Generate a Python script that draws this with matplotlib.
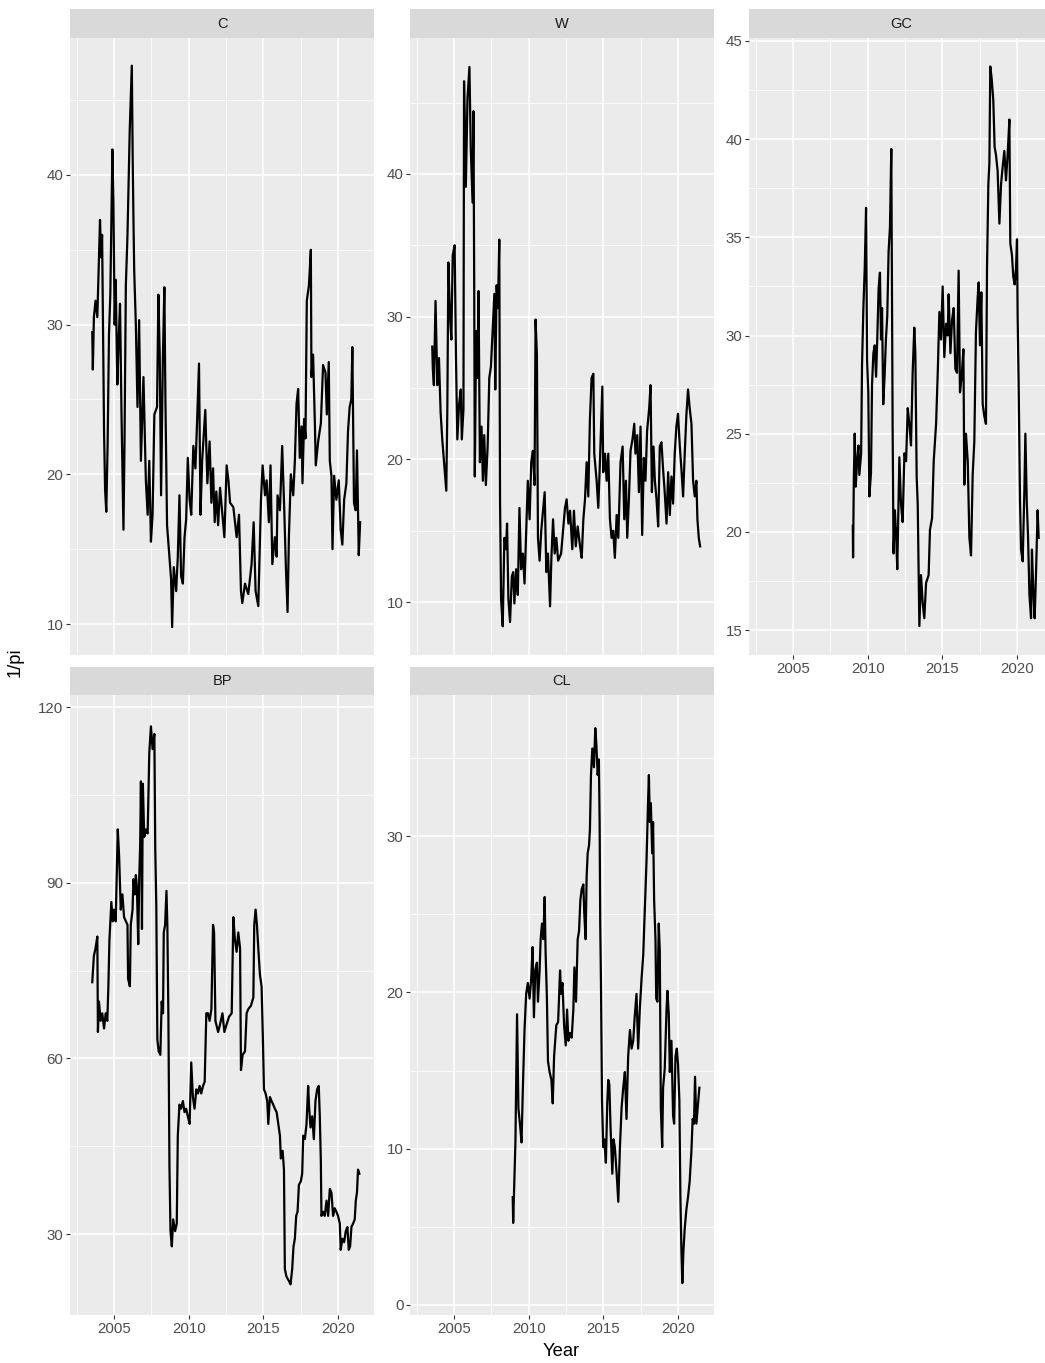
import matplotlib
matplotlib.use("Agg")
import matplotlib.pyplot as plt

plt.rcParams['font.family'] = ['Liberation Sans', 'DejaVu Sans']

# ---------------- data ----------------
c_year = [2003.54, 2003.58, 2003.65, 2003.76, 2003.88, 2004.06, 2004.13, 2004.20, 2004.33, 2004.40,
          2004.48, 2004.57, 2004.66, 2004.75, 2004.89, 2004.96, 2005.04, 2005.11, 2005.22, 2005.31,
          2005.40, 2005.50, 2005.63, 2005.70, 2005.79, 2005.90, 2006.05, 2006.19, 2006.25, 2006.30,
          2006.35, 2006.46, 2006.57, 2006.68, 2006.80, 2006.97, 2007.13, 2007.25, 2007.36, 2007.47,
          2007.58, 2007.70, 2007.88, 2007.97, 2008.06, 2008.15, 2008.27, 2008.37, 2008.44, 2008.55,
          2008.71, 2008.82, 2008.89, 2009.00, 2009.16, 2009.27, 2009.38, 2009.49, 2009.61, 2009.72,
          2009.83, 2009.94, 2010.06, 2010.17, 2010.31, 2010.45, 2010.56, 2010.69, 2010.79, 2010.90,
          2011.11, 2011.25, 2011.40, 2011.52, 2011.63, 2011.74, 2011.85, 2011.97,
          2012.10, 2012.39, 2012.54, 2012.66, 2012.77, 2012.99, 2013.21, 2013.37, 2013.50, 2013.59,
          2013.77, 2013.99, 2014.21, 2014.35, 2014.48, 2014.66, 2014.84, 2014.95, 2015.11, 2015.22,
          2015.37, 2015.48, 2015.60, 2015.77, 2015.89, 2015.95, 2016.11, 2016.26, 2016.40, 2016.51,
          2016.62, 2016.71, 2016.84, 2017.00, 2017.11, 2017.22, 2017.33, 2017.44, 2017.56, 2017.62,
          2017.73, 2017.82, 2017.91, 2018.05, 2018.18, 2018.22, 2018.33, 2018.45, 2018.51, 2018.67,
          2018.85, 2019.00, 2019.16, 2019.25, 2019.38, 2019.45, 2019.56, 2019.63, 2019.74, 2019.89,
          2020.05, 2020.18, 2020.29, 2020.41, 2020.56, 2020.67, 2020.78, 2020.89, 2020.96, 2021.07,
          2021.18, 2021.27, 2021.39, 2021.48]
c_val = [29.5, 27.0, 30.5, 31.6, 30.5, 37.0, 34.5, 36.0, 22.9, 19.0,
         17.5, 22.0, 29.3, 32.0, 41.7, 38.0, 30.0, 33.0, 26.0, 29.0,
         31.4, 24.0, 16.3, 22.0, 32.6, 36.0, 43.0, 47.3, 41.0, 37.0,
         33.6, 30.0, 24.5, 30.3, 20.9, 26.5, 19.6, 17.3, 20.9, 15.5,
         17.3, 24.0, 24.5, 32.0, 28.0, 18.6, 27.8, 32.5, 25.0, 16.6,
         14.5, 13.0, 9.8, 13.8, 12.2, 14.5, 18.6, 13.2, 12.7, 15.8,
         17.0, 21.1, 18.3, 17.3, 21.9, 20.4, 23.5, 27.4, 17.3, 20.9,
         24.3, 19.4, 22.2, 18.1, 20.4, 16.8, 18.85, 16.6,
         19.1, 15.8, 20.6, 19.6, 18.1, 17.8, 15.8, 17.3, 12.2, 11.4,
         12.7, 12.0, 14.0, 16.8, 12.2, 11.2, 18.3, 20.6, 18.6, 19.6,
         16.8, 20.6, 14.0, 15.8, 14.5, 18.6, 17.6, 21.9, 17.6, 13.75,
         10.8, 15.8, 20.0, 18.6, 20.9, 24.7, 25.7, 21.1, 23.2, 19.4,
         23.7, 22.4, 31.6, 32.6, 35.0, 26.5, 28.0, 23.4, 20.6, 22.2,
         23.4, 27.3, 26.8, 24.0, 27.5, 20.9, 19.9, 15.0, 19.9, 18.3,
         19.6, 16.3, 15.3, 18.3, 19.4, 22.9, 24.5, 25.0, 28.5, 18.1,
         17.6, 21.6, 14.6, 16.8]

w_year = [2003.54, 2003.58, 2003.65, 2003.76, 2003.88, 2003.99, 2004.10, 2004.21, 2004.33, 2004.48,
          2004.55, 2004.62, 2004.73, 2004.82, 2004.91, 2005.04, 2005.13, 2005.22, 2005.34, 2005.45,
          2005.52, 2005.63, 2005.67, 2005.79, 2005.90, 2006.03, 2006.12, 2006.24, 2006.30, 2006.35,
          2006.39, 2006.48, 2006.57, 2006.64, 2006.73, 2006.84, 2006.93, 2007.02, 2007.13, 2007.25,
          2007.36, 2007.47, 2007.58, 2007.70, 2007.76, 2007.85, 2007.94, 2008.03, 2008.08, 2008.15,
          2008.26, 2008.37, 2008.48, 2008.55, 2008.64, 2008.75, 2008.87, 2008.96, 2009.04, 2009.16,
          2009.27, 2009.38, 2009.49, 2009.61, 2009.72, 2009.83, 2009.94, 2010.06, 2010.17, 2010.28,
          2010.39, 2010.46, 2010.55, 2010.62, 2010.73, 2010.84, 2010.96, 2011.07, 2011.18, 2011.29,
          2011.43, 2011.52, 2011.63, 2011.74, 2011.85, 2011.97,
          2012.17, 2012.32, 2012.43, 2012.54, 2012.66, 2012.77, 2012.92, 2013.03, 2013.15, 2013.28,
          2013.44, 2013.55, 2013.66, 2013.77, 2013.88, 2013.99, 2014.10, 2014.21, 2014.33, 2014.39,
          2014.55, 2014.66, 2014.77, 2014.93, 2014.99, 2015.11, 2015.22, 2015.33, 2015.44, 2015.55,
          2015.66, 2015.77, 2015.89, 2016.00, 2016.15, 2016.29, 2016.40, 2016.51, 2016.60, 2016.71,
          2016.82, 2016.95, 2017.07, 2017.15, 2017.27, 2017.38, 2017.49, 2017.60, 2017.71, 2017.82,
          2017.93, 2018.07, 2018.16, 2018.25, 2018.36, 2018.45, 2018.56, 2018.67, 2018.78, 2018.89,
          2019.00, 2019.11, 2019.23, 2019.34, 2019.45, 2019.56, 2019.67, 2019.78, 2019.89, 2020.00,
          2020.12, 2020.23, 2020.34, 2020.45, 2020.56, 2020.67, 2020.78, 2020.90, 2021.01, 2021.12,
          2021.23, 2021.30, 2021.39, 2021.48]
w_val = [27.9, 26.3, 25.2, 31.1, 25.2, 27.1, 23.3, 21.4, 19.8, 17.8,
         23.5, 33.8, 30.0, 28.4, 34.3, 35.0, 27.1, 21.4, 23.9, 24.9,
         21.4, 23.5, 46.5, 39.1, 45.3, 47.5, 41.8, 38.0, 44.4, 32.2,
         18.8, 29.0, 25.7, 31.8, 19.8, 22.3, 18.5, 21.7, 18.2, 20.9,
         25.7, 26.5, 29.0, 31.6, 24.9, 32.2, 30.6, 35.4, 17.2, 10.2,
         8.3, 14.5, 13.7, 15.5, 10.2, 8.6, 11.8, 12.1, 9.9, 12.3,
         10.5, 16.6, 12.3, 13.4, 11.3, 15.0, 18.5, 15.8, 19.8, 20.6,
         18.2, 29.8, 27.3, 14.5, 12.9, 15.0, 16.4, 17.7, 12.1, 13.4,
         9.7, 13.1, 15.8, 13.4, 14.5, 12.9,
         13.4, 15.3, 16.6, 17.2, 15.5, 16.4, 13.7, 16.4, 13.9, 15.3,
         13.9, 13.1, 15.8, 17.2, 19.8, 17.4, 22.8, 25.7, 26.0, 20.4,
         18.5, 16.6, 19.8, 25.1, 19.1, 20.4, 18.5, 20.4, 15.8, 14.5,
         15.0, 13.1, 16.1, 14.5, 19.8, 20.9, 15.8, 18.5, 14.5, 17.2,
         20.6, 21.4, 22.5, 20.4, 21.7, 17.7, 22.3, 14.7, 20.1, 18.5,
         22.0, 23.6, 25.2, 17.7, 20.9, 18.5, 17.2, 15.3, 20.9, 21.2,
         19.3, 17.7, 15.5, 19.1, 16.1, 18.8, 16.9, 20.4, 22.3, 23.2,
         20.9, 19.3, 17.4, 20.4, 23.1, 24.9, 23.6, 22.5, 18.5, 17.4,
         18.5, 15.8, 14.5, 13.9]

gc_year = [2009.00, 2009.02, 2009.07, 2009.13, 2009.20, 2009.29, 2009.38, 2009.44, 2009.56, 2009.62,
           2009.71, 2009.80, 2009.89, 2009.96, 2010.04, 2010.11, 2010.22, 2010.29, 2010.38, 2010.47,
           2010.56, 2010.64, 2010.73, 2010.82, 2010.89, 2010.96, 2011.04, 2011.13, 2011.22, 2011.31,
           2011.40, 2011.49, 2011.58, 2011.67, 2011.73, 2011.82, 2011.91, 2011.98,
           2012.12, 2012.23, 2012.34, 2012.46, 2012.57, 2012.68, 2012.79, 2012.90, 2013.01, 2013.12,
           2013.19, 2013.28, 2013.35, 2013.46, 2013.57, 2013.68, 2013.79, 2013.91, 2014.08, 2014.17,
           2014.31, 2014.42, 2014.58, 2014.69, 2014.80, 2014.91, 2015.02, 2015.13, 2015.25, 2015.36,
           2015.42, 2015.54, 2015.65, 2015.76, 2015.87, 2015.98, 2016.09, 2016.18, 2016.29, 2016.41,
           2016.47, 2016.58, 2016.70, 2016.81, 2016.92, 2017.03, 2017.14, 2017.25, 2017.37, 2017.43,
           2017.52, 2017.61, 2017.70, 2017.81, 2017.92, 2017.99, 2018.08, 2018.15, 2018.21, 2018.30,
           2018.41, 2018.50, 2018.59, 2018.70, 2018.82, 2018.93, 2019.04, 2019.15, 2019.26, 2019.37,
           2019.49, 2019.55, 2019.66, 2019.75, 2019.84, 2019.93, 2020.00, 2020.04, 2020.11, 2020.20,
           2020.27, 2020.38, 2020.49, 2020.56, 2020.65, 2020.74, 2020.83, 2020.94, 2021.00, 2021.09,
           2021.18, 2021.27, 2021.38, 2021.45]
gc_val = [20.3, 18.7, 22.7, 25.0, 22.3, 23.6, 24.4, 22.9, 24.0, 28.5,
          31.4, 33.4, 36.5, 28.7, 27.1, 21.8, 23.0, 27.5, 29.1, 29.5,
          27.9, 29.8, 32.4, 33.2, 29.8, 31.4, 26.5, 27.9, 29.8, 31.0,
          34.3, 35.5, 39.5, 25.2, 18.9, 21.1, 19.7, 18.1,
          23.8, 21.4, 20.5, 24.0, 23.6, 26.3, 25.5, 24.4, 28.1, 30.4,
          29.1, 22.8, 21.4, 15.2, 17.8, 16.4, 15.6, 17.4, 17.8, 20.1,
          20.7, 23.6, 25.5, 28.1, 31.2, 29.8, 32.5, 28.9, 30.6, 30.0,
          32.1, 29.1, 30.8, 31.4, 28.3, 28.1, 33.3, 27.1, 27.9, 29.3,
          22.4, 25.0, 23.6, 19.7, 18.8, 22.9, 24.6, 30.2, 32.0, 32.7,
          29.5, 32.2, 26.5, 25.9, 25.5, 33.4, 37.7, 38.8, 43.7, 43.1,
          42.0, 39.6, 39.2, 38.4, 35.7, 37.7, 38.6, 39.4, 37.9, 39.2,
          41.0, 34.7, 34.1, 33.0, 32.6, 33.4, 34.9, 31.0, 27.5, 21.6,
          19.1, 18.5, 22.0, 25.0, 21.6, 19.7, 16.8, 15.6, 19.1, 17.0,
          15.6, 17.8, 21.1, 19.7]

bp_year = [2003.54, 2003.65, 2003.76, 2003.88, 2003.92, 2003.99, 2004.10, 2004.21, 2004.33, 2004.44,
           2004.55, 2004.62, 2004.69, 2004.82, 2004.91, 2005.00, 2005.11, 2005.18, 2005.25, 2005.34,
           2005.45, 2005.56, 2005.67, 2005.79, 2005.90, 2005.94, 2006.06, 2006.12, 2006.24, 2006.30,
           2006.39, 2006.46, 2006.53, 2006.62, 2006.69, 2006.75, 2006.80, 2006.87, 2006.93, 2007.02,
           2007.13, 2007.25, 2007.36, 2007.47, 2007.58, 2007.70, 2007.76, 2007.83, 2007.90, 2007.99,
           2008.10, 2008.19, 2008.28, 2008.33, 2008.42, 2008.51, 2008.57, 2008.64, 2008.71, 2008.78,
           2008.87, 2008.96, 2009.09, 2009.20, 2009.27, 2009.38, 2009.49, 2009.61, 2009.72, 2009.83,
           2009.94, 2010.06, 2010.17, 2010.28, 2010.39, 2010.51, 2010.62, 2010.73, 2010.84, 2010.96,
           2011.07, 2011.18, 2011.29, 2011.40, 2011.52, 2011.63, 2011.70, 2011.79, 2011.97,
           2012.10, 2012.26, 2012.39, 2012.54, 2012.70, 2012.88, 2012.99, 2013.10, 2013.21, 2013.32,
           2013.44, 2013.50, 2013.61, 2013.77, 2013.88, 2013.99, 2014.17, 2014.33, 2014.39, 2014.48,
           2014.57, 2014.66, 2014.77, 2014.88, 2014.97, 2015.04, 2015.15, 2015.26, 2015.33, 2015.44,
           2015.55, 2015.66, 2015.77, 2015.89, 2016.00, 2016.11, 2016.17, 2016.29, 2016.38, 2016.44,
           2016.55, 2016.71, 2016.82, 2016.93, 2017.02, 2017.11, 2017.20, 2017.29, 2017.38, 2017.51,
           2017.60, 2017.67, 2017.78, 2017.89, 2018.00, 2018.07, 2018.16, 2018.27, 2018.38, 2018.49,
           2018.60, 2018.71, 2018.78, 2018.85, 2018.89, 2019.00, 2019.11, 2019.23, 2019.34, 2019.45,
           2019.56, 2019.67, 2019.78, 2019.89, 2020.00, 2020.12, 2020.18, 2020.29, 2020.41, 2020.52,
           2020.63, 2020.72, 2020.81, 2020.90, 2021.01, 2021.12, 2021.19, 2021.27, 2021.34, 2021.43]
bp_val = [73.0, 77.5, 78.8, 80.8, 64.5, 69.7, 66.4, 67.7, 65.1, 67.7,
          66.4, 72.3, 80.2, 86.7, 83.4, 85.4, 83.4, 91.3, 99.1, 94.5,
          85.4, 88.0, 84.1, 83.4, 82.8, 73.6, 72.3, 82.8, 85.4, 90.6,
          88.0, 91.3, 89.3, 79.5, 91.3, 96.5, 107.3, 82.1, 106.9, 97.8,
          99.1, 98.4, 112.2, 116.7, 112.8, 115.4, 95.8, 86.0, 63.2, 61.2,
          60.6, 69.7, 67.7, 81.5, 82.8, 88.6, 82.8, 67.1, 41.6, 30.5,
          27.9, 32.5, 30.5, 31.8, 46.8, 52.1, 51.4, 52.7, 50.8, 51.4,
          50.1, 48.8, 59.3, 53.4, 51.4, 54.7, 54.0, 55.3, 54.0, 55.3,
          56.0, 67.7, 67.7, 66.4, 68.4, 82.8, 81.5, 66.4, 64.5,
          65.8, 67.7, 64.5, 65.8, 67.1, 67.7, 84.1, 80.2, 78.2, 81.5,
          78.8, 58.0, 60.6, 61.2, 67.7, 68.4, 69.0, 70.4, 82.8, 85.4,
          82.8, 78.8, 74.3, 72.3, 63.2, 54.7, 54.0, 52.7, 48.8, 53.4,
          52.7, 52.1, 51.4, 50.8, 48.8, 46.8, 42.9, 44.2, 41.0, 24.0,
          22.7, 22.0, 21.4, 24.0, 27.9, 29.2, 33.1, 33.8, 38.4, 39.0,
          40.3, 46.8, 46.2, 48.8, 55.3, 51.4, 48.2, 50.1, 46.2, 52.7,
          54.7, 55.3, 50.1, 42.3, 33.1, 33.8, 33.1, 35.7, 33.1, 37.7,
          37.1, 33.1, 34.4, 33.8, 33.1, 31.8, 27.3, 29.2, 28.6, 30.5,
          31.2, 27.3, 27.9, 31.2, 31.8, 32.5, 35.7, 37.1, 41.0, 40.3]

cl_year = [2008.93, 2008.96, 2009.04, 2009.11, 2009.22, 2009.31, 2009.43, 2009.52, 2009.61, 2009.72,
           2009.83, 2009.94, 2010.06, 2010.17, 2010.26, 2010.35, 2010.44, 2010.55, 2010.62, 2010.73,
           2010.80, 2010.89, 2010.98, 2011.07, 2011.13, 2011.22, 2011.29, 2011.40, 2011.52, 2011.61,
           2011.70, 2011.85, 2011.97,
           2012.10, 2012.17, 2012.26, 2012.37, 2012.48, 2012.57, 2012.66, 2012.77, 2012.88, 2012.99,
           2013.06, 2013.17, 2013.28, 2013.37, 2013.46, 2013.55, 2013.66, 2013.72, 2013.81, 2013.88,
           2013.95, 2014.04, 2014.10, 2014.17, 2014.26, 2014.37, 2014.46, 2014.53, 2014.62, 2014.70,
           2014.75, 2014.79, 2014.84, 2014.91, 2014.99, 2015.06, 2015.17, 2015.26, 2015.33, 2015.40,
           2015.48, 2015.60, 2015.68, 2015.77, 2015.89, 2016.00, 2016.11, 2016.22, 2016.33, 2016.44,
           2016.55, 2016.66, 2016.78, 2016.89, 2017.00, 2017.11, 2017.22, 2017.33, 2017.44, 2017.56,
           2017.67, 2017.78, 2017.89, 2018.00, 2018.05, 2018.11, 2018.18, 2018.27, 2018.33, 2018.40,
           2018.49, 2018.54, 2018.62, 2018.71, 2018.78, 2018.85, 2018.94, 2019.00, 2019.11, 2019.23,
           2019.29, 2019.38, 2019.45, 2019.56, 2019.67, 2019.74, 2019.83, 2019.92, 2020.00, 2020.09,
           2020.16, 2020.23, 2020.29, 2020.36, 2020.45, 2020.56, 2020.67, 2020.78, 2020.90, 2020.98,
           2021.07, 2021.14, 2021.23, 2021.34, 2021.43]
cl_val = [6.9, 5.25, 7.9, 10.4, 18.6, 12.6, 11.4, 10.4, 13.9, 17.6,
          19.9, 20.6, 19.6, 20.9, 22.9, 18.4, 21.4, 21.9, 19.4, 21.4,
          23.4, 24.4, 23.4, 26.1, 22.6, 19.6, 15.6, 14.9, 14.4, 12.9,
          15.9, 17.9, 18.1,
          21.4, 19.9, 20.6, 17.9, 16.6, 18.9, 16.9, 17.4, 17.1, 18.9,
          21.6, 19.4, 23.4, 23.9, 25.9, 26.6, 26.9, 25.1, 23.4, 27.4,
          28.9, 29.4, 30.4, 33.9, 35.6, 34.4, 36.9, 35.9, 33.9, 34.9,
          30.9, 24.4, 20.6, 13.1, 10.1, 10.6, 9.1, 12.9, 14.4, 14.1,
          11.4, 8.4, 10.6, 10.1, 8.4, 6.6, 10.1, 12.6, 13.9, 14.9,
          11.9, 15.9, 17.6, 16.4, 16.9, 18.6, 19.9, 16.4, 18.9, 20.9,
          22.4, 25.4, 28.4, 32.4, 33.9, 30.9, 32.1, 28.9, 30.9, 25.9,
          23.4, 19.6, 19.4, 24.4, 22.6, 12.6, 10.1, 13.9, 15.1, 18.9,
          20.1, 18.6, 14.9, 16.9, 12.1, 11.6, 15.9, 16.4, 15.4, 13.1,
          6.9, 3.4, 1.4, 3.4, 4.9, 6.1, 6.9, 7.9, 9.9, 11.9,
          11.6, 14.6, 11.6, 12.9, 13.9]

panel_names = ["C", "W", "GC", "BP", "CL"]
x_breaks = [2005, 2010, 2015, 2020]
x_labels = ["2005", "2010", "2015", "2020"]
y_breaks = {"C": [10, 20, 30, 40], "W": [10, 20, 30, 40],
            "GC": [15, 20, 25, 30, 35, 40, 45], "BP": [30, 60, 90, 120],
            "CL": [0, 10, 20, 30]}
x_title = "Year"
y_title = "1/pi"

series = {"C": (c_year, c_val), "W": (w_year, w_val), "GC": (gc_year, gc_val),
          "BP": (bp_year, bp_val), "CL": (cl_year, cl_val)}

# ---------------- layout ----------------
FW, FH, DPI = 1045, 1363, 100
fig = plt.figure(figsize=(FW / DPI, FH / DPI), dpi=DPI)
fig.patch.set_facecolor("white")

def rect(x0, x1, y0, y1):
    return [x0 / FW, 1 - y1 / FH, (x1 - x0) / FW, (y1 - y0) / FH]

cols = [(70, 374), (410, 714), (749, 1053)]
rows = [((9, 38), (38, 655)), ((667, 695), (695, 1315))]
layout = {"C": (0, 0), "W": (0, 1), "GC": (0, 2), "BP": (1, 0), "CL": (1, 1)}
ylims = {"C": (7.93, 49.15), "W": (6.29, 49.53), "GC": (13.73, 45.15),
         "BP": (16.17, 122.05), "CL": (-0.64, 39.02)}
xlim = (2002.05, 2022.41)
show_x = {"C": False, "W": False, "GC": True, "BP": True, "CL": True}

PANEL_BG = "#EBEBEB"
STRIP_BG = "#D9D9D9"
TICK_COL = "#4D4D4D"
TICK_FS = 10.8
STRIP_FS = 10.5
TITLE_FS = 13.2

for name in panel_names:
    r, c = layout[name]
    (sy0, sy1), (py0, py1) = rows[r]
    x0, x1 = cols[c]
    ax = fig.add_axes(rect(x0, x1, py0, py1))
    ax.set_facecolor(PANEL_BG)
    xs, ys = series[name]
    ax.plot(xs, ys, color="black", lw=1.6, zorder=3, solid_joinstyle="round")
    ax.set_xlim(*xlim)
    ax.set_ylim(*ylims[name])
    ax.set_xticks(x_breaks)
    ax.set_xticks([2002.5, 2007.5, 2012.5, 2017.5], minor=True)
    yb = y_breaks[name]
    step = yb[1] - yb[0]
    ym = [v + step / 2 for v in [yb[0] - step] + yb]
    ym = [v for v in ym if ylims[name][0] <= v <= ylims[name][1]]
    ax.set_yticks(yb)
    ax.set_yticks(ym, minor=True)
    ax.set_yticklabels([str(v) for v in yb])
    ax.grid(which="major", color="white", lw=1.1)
    ax.grid(which="minor", color="white", lw=0.55)
    ax.set_axisbelow(True)
    for sp in ax.spines.values():
        sp.set_visible(False)
    ax.tick_params(which="minor", length=0)
    ax.tick_params(which="major", direction="out", length=2.75, width=0.8,
                   color="#333333", labelsize=TICK_FS, labelcolor=TICK_COL, pad=2.0)
    if show_x[name]:
        ax.set_xticklabels(x_labels)
    else:
        ax.tick_params(axis="x", which="major", length=0, labelbottom=False)

    sax = fig.add_axes(rect(x0, x1, sy0, sy1))
    sax.set_facecolor(STRIP_BG)
    sax.set_xticks([]); sax.set_yticks([])
    for sp in sax.spines.values():
        sp.set_visible(False)
    sax.text(0.5, 0.5, name, ha="center", va="center", fontsize=STRIP_FS,
             color="#1A1A1A", transform=sax.transAxes)

fig.text(561.5 / FW, 1 - 1351 / FH, x_title, ha="center", va="center",
         fontsize=TITLE_FS, color="black")
fig.text(15 / FW, 1 - 662 / FH, y_title, ha="center", va="center",
         rotation=90, fontsize=TITLE_FS, color="black")

fig.savefig("out.png", dpi=DPI)
